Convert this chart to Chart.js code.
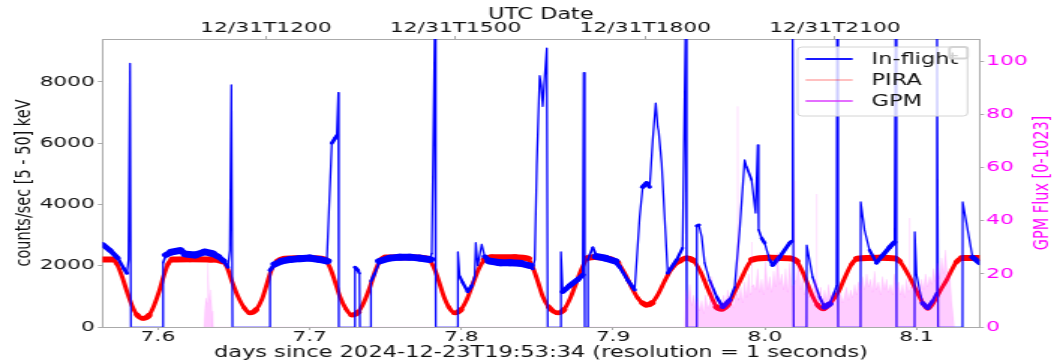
<!DOCTYPE html>
<html>
<head>
<meta charset="utf-8">
<script src="https://cdn.jsdelivr.net/npm/chart.js@4.4.1/dist/chart.umd.min.js"></script>
<style>
  html, body { margin: 0; padding: 0; background: #fff; overflow: hidden; }
</style>
</head>
<body>
<!-- drawn at 703 px wide, shown at 1054 px: the reference is a horizontally stretched figure -->
<canvas id="c" width="703" height="363" style="display:block;width:1054px;height:363px"></canvas>
<script>
// ---- data ----
const inflightDays = [
  7.5634, 7.5684, 7.5736, 7.5776, 7.5796, 7.5806, 7.5816, 7.5822, 7.6033, 7.6034,
  7.6053, 7.6092, 7.6145, 7.6184, 7.6244, 7.6310, 7.6356, 7.6395, 7.6435, 7.6461,
  7.6474, 7.6484, 7.6491, 7.6738, 7.6739, 7.6771, 7.6817, 7.6870, 7.6935, 7.7001,
  7.7067, 7.7113, 7.7146, 7.7166, 7.7179, 7.7189, 7.7192, 7.7298, 7.7299, 7.7318,
  7.7328, 7.7331, 7.7403, 7.7404, 7.7430, 7.7462, 7.7528, 7.7594, 7.7660, 7.7726,
  7.7792, 7.7805, 7.7812, 7.7825, 7.7831, 7.7976, 7.7977, 7.7989, 7.8009, 7.8042,
  7.8068, 7.8088, 7.8095, 7.8108, 7.8134, 7.8154, 7.8187, 7.8253, 7.8319, 7.8385,
  7.8451, 7.8470, 7.8484, 7.8497, 7.8516, 7.8526, 7.8536, 7.8549, 7.8563, 7.8569,
  7.8655, 7.8656, 7.8668, 7.8714, 7.8767, 7.8800, 7.8806, 7.8813, 7.8833, 7.8834,
  7.8866, 7.8892, 7.8945, 7.9011, 7.9043, 7.9096, 7.9142, 7.9175, 7.9195, 7.9221,
  7.9241, 7.9261, 7.9281, 7.9294, 7.9300, 7.9320, 7.9360, 7.9419, 7.9458, 7.9478,
  7.9485, 7.9551, 7.9552, 7.9565, 7.9584, 7.9603, 7.9636, 7.9683, 7.9722, 7.9768,
  7.9801, 7.9834, 7.9867, 7.9880, 7.9913, 7.9939, 7.9953, 7.9959, 7.9979, 7.9999,
  8.0032, 8.0051, 8.0097, 8.0163, 8.0177, 8.0183, 8.0190, 8.0275, 8.0276, 8.0315,
  8.0361, 8.0394, 8.0427, 8.0460, 8.0473, 8.0476, 8.0483, 8.0631, 8.0632, 8.0657,
  8.0690, 8.0736, 8.0769, 8.0822, 8.0855, 8.0862, 8.0868, 8.0987, 8.0988, 8.1000,
  8.1020, 8.1040, 8.1073, 8.1106, 8.1132, 8.1135, 8.1142, 8.1303, 8.1304, 8.1329,
  8.1369, 8.1415
];
const inflightCounts = [
  2700, 2500, 2250, 1900, 1750, 2200, 8600, 0, 0, 2100,
  2350, 2450, 2500, 2380, 2350, 2450, 2400, 2300, 2150, 1950,
  2500, 7900, 0, 0, 1850, 2050, 2150, 2200, 2230, 2250,
  2200, 2150, 6000, 6150, 6250, 7650, 0, 0, 1950, 1850,
  1750, 0, 0, 1500, 1750, 2150, 2250, 2280, 2280, 2250,
  2200, 2400, 5000, 9900, 0, 0, 2450, 1650, 1450, 1150,
  1350, 1650, 2750, 2000, 2700, 2300, 2150, 2100, 2100, 2080,
  2000, 1900, 2200, 5300, 8200, 7900, 7200, 8150, 9100, 0,
  0, 2450, 1150, 1350, 1550, 1700, 8300, 0, 0, 2200,
  2600, 2300, 2250, 2150, 1960, 1530, 1210, 3590, 4570, 4700,
  4570, 6100, 7310, 6530, 6400, 5350, 1760, 2190, 2580, 9900,
  0, 0, 3300, 3330, 2940, 2090, 1530, 980, 650, 880,
  1300, 3170, 5450, 5220, 4800, 3720, 5940, 3170, 2900, 2740,
  2190, 2020, 2280, 2740, 2800, 9900, 0, 0, 2670, 1630,
  980, 650, 750, 1150, 1350, 9900, 0, 0, 4080, 3170,
  2510, 2090, 2300, 2600, 2770, 9900, 0, 0, 3100, 1700,
  1200, 780, 620, 850, 1110, 9900, 0, 0, 4080, 3390,
  2280, 2090
];

const piraDays = [
  7.5634, 7.5697, 7.5730, 7.5763, 7.5796, 7.5829, 7.5862, 7.5901, 7.5941, 7.5974,
  7.6007, 7.6040, 7.6066, 7.6099, 7.6211, 7.6343, 7.6422, 7.6455, 7.6487, 7.6527,
  7.6567, 7.6606, 7.6646, 7.6685, 7.6718, 7.6751, 7.6791, 7.6837, 7.7001, 7.7100,
  7.7133, 7.7166, 7.7199, 7.7238, 7.7278, 7.7318, 7.7357, 7.7397, 7.7430, 7.7462,
  7.7502, 7.7660, 7.7779, 7.7818, 7.7851, 7.7884, 7.7917, 7.7956, 7.7996, 7.8036,
  7.8075, 7.8115, 7.8154, 7.8200, 7.8352, 7.8437, 7.8470, 7.8503, 7.8536, 7.8576,
  7.8635, 7.8675, 7.8714, 7.8754, 7.8793, 7.8833, 7.8879, 7.8978, 7.9030, 7.9076,
  7.9122, 7.9162, 7.9195, 7.9221, 7.9254, 7.9294, 7.9340, 7.9386, 7.9439, 7.9485,
  7.9524, 7.9570, 7.9636, 7.9683, 7.9715, 7.9762, 7.9801, 7.9847, 7.9887, 7.9920,
  8.0032, 8.0163, 8.0209, 8.0249, 8.0282, 8.0315, 8.0348, 8.0387, 8.0433, 8.0486,
  8.0526, 8.0572, 8.0611, 8.0756, 8.0855, 8.0888, 8.0954, 8.0987, 8.1020, 8.1073,
  8.1119, 8.1158, 8.1198, 8.1231, 8.1263, 8.1303, 8.1415
];
const piraCounts = [
  2200, 2200, 2050, 1650, 1150, 700, 400, 280, 380, 700,
  1150, 1700, 2050, 2200, 2210, 2200, 2150, 1950, 1500, 1000,
  640, 460, 560, 900, 1400, 1900, 2150, 2230, 2250, 2200,
  1950, 1500, 1000, 600, 390, 480, 800, 1300, 1800, 2150,
  2270, 2280, 2230, 1950, 1500, 1000, 650, 460, 560, 900,
  1400, 1900, 2200, 2280, 2280, 2230, 1950, 1500, 1000, 650,
  460, 560, 900, 1400, 1900, 2250, 2280, 2220, 2100, 1750,
  1300, 950, 780, 720, 780, 1050, 1500, 1900, 2150, 2250,
  2180, 1860, 1110, 650, 580, 750, 1150, 1600, 2000, 2200,
  2260, 2240, 2150, 1800, 1400, 1000, 720, 580, 780, 1150,
  1600, 2050, 2230, 2260, 2240, 2150, 1630, 1300, 980, 580,
  850, 1200, 1530, 1850, 2120, 2250, 2250
];

const gpmDays = [
  7.6303, 7.6310, 7.6316, 7.6323, 7.6329, 7.6336, 7.6343, 7.6349, 7.6356, 7.6362,
  7.9472, 7.9478, 7.9491, 7.9505, 7.9518, 7.9531, 7.9544, 7.9557, 7.9570, 7.9584,
  7.9597, 7.9610, 7.9623, 7.9636, 7.9650, 7.9663, 7.9676, 7.9689, 7.9702, 7.9715,
  7.9729, 7.9742, 7.9755, 7.9768, 7.9781, 7.9794, 7.9808, 7.9819, 7.9821, 7.9823,
  7.9827, 7.9841, 7.9854, 7.9867, 7.9880, 7.9893, 7.9906, 7.9911, 7.9913, 7.9915,
  7.9926, 7.9939, 7.9953, 7.9966, 7.9979, 7.9992, 8.0005, 8.0018, 8.0032, 8.0045,
  8.0058, 8.0071, 8.0084, 8.0097, 8.0111, 8.0124, 8.0137, 8.0150, 8.0163, 8.0177,
  8.0194, 8.0196, 8.0198, 8.0209, 8.0223, 8.0236, 8.0249, 8.0262, 8.0275, 8.0289,
  8.0302, 8.0315, 8.0328, 8.0339, 8.0341, 8.0343, 8.0354, 8.0368, 8.0381, 8.0394,
  8.0407, 8.0420, 8.0433, 8.0447, 8.0460, 8.0473, 8.0486, 8.0499, 8.0513, 8.0526,
  8.0539, 8.0552, 8.0565, 8.0578, 8.0592, 8.0605, 8.0618, 8.0631, 8.0644, 8.0657,
  8.0671, 8.0684, 8.0697, 8.0710, 8.0723, 8.0736, 8.0750, 8.0763, 8.0776, 8.0789,
  8.0802, 8.0815, 8.0829, 8.0842, 8.0855, 8.0868, 8.0881, 8.0895, 8.0908, 8.0921,
  8.0934, 8.0947, 8.0952, 8.0954, 8.0956, 8.0967, 8.0980, 8.0993, 8.1007, 8.1020,
  8.1033, 8.1046, 8.1059, 8.1073, 8.1086, 8.1099, 8.1112, 8.1125, 8.1138, 8.1152,
  8.1165, 8.1178, 8.1191, 8.1204, 8.1217, 8.1231, 8.1244, 8.1250
];
const gpmFlux = [
  0, 7, 11, 9, 24, 13, 10, 14, 6, 0,
  0, 14, 9, 16, 8, 12, 7, 11, 6, 10,
  5, 12, 7, 9, 19, 8, 11, 6, 10, 7,
  12, 8, 14, 9, 11, 7, 13, 12, 83, 11,
  10, 15, 9, 17, 11, 20, 12, 13, 32, 15,
  16, 14, 22, 13, 18, 12, 25, 14, 19, 13,
  21, 15, 28, 16, 20, 14, 22, 13, 24, 15,
  16, 55, 17, 18, 24, 14, 20, 12, 17, 11,
  16, 10, 18, 17, 50, 13, 12, 15, 9, 14,
  10, 16, 11, 13, 9, 14, 10, 13, 9, 12,
  15, 10, 14, 11, 16, 12, 17, 13, 19, 14,
  20, 15, 18, 13, 21, 14, 17, 12, 19, 14,
  18, 13, 16, 12, 20, 14, 17, 12, 16, 11,
  18, 13, 14, 41, 15, 15, 17, 12, 16, 13,
  18, 14, 20, 15, 19, 16, 22, 17, 24, 18,
  26, 20, 29, 18, 22, 10, 3, 0
];

const bottomTicks = [7.6, 7.7, 7.8, 7.9, 8.0, 8.1];
const topTickDays = [7.6712, 7.7962, 7.9212, 8.0462];
const topTickLabels = ['12/31T1200', '12/31T1500', '12/31T1800', '12/31T2100'];
const countTicks = [0, 2000, 4000, 6000, 8000];
const fluxTicks = [0, 20, 40, 60, 80, 100];

const X_MIN = 7.5634, X_MAX = 8.1415;
const COUNT_MAX = 9400, FLUX_MAX = 108.3;

const xLabel = 'days since 2024-12-23T19:53:34 (resolution = 1 seconds)';
const yLabel = 'counts/sec [5 - 50] keV';
const y2Label = 'GPM Flux [0-1023]';

// ---- chart ----
const FAMILY = "'DejaVu Sans', sans-serif";
const tickFont = { family: FAMILY, size: 14.5 };
const titleFont = { family: FAMILY, size: 15 };
const SPINE = '#aaaaaa';
const MAGENTA = '#ff00ff';

const toXY = (xs, ys) => xs.map((x, i) => ({ x: x, y: ys[i] }));

// noisy traces: keep a roughly constant vertical band, thin on steep parts
function bandWidth(band, thin) {
  return c => {
    if (c.p0.parsed.y === 0 && c.p1.parsed.y === 0) return 1.1;
    const dx = Math.abs(c.p1.x - c.p0.x) || 0.001;
    const s = Math.abs(c.p1.y - c.p0.y) / dx;
    let w = Math.max(thin, band / Math.sqrt(1 + s * s));
    if (dx < 2) w = Math.min(w, 3);
    return w;
  };
}

const overlay = {
  id: 'overlay',
  afterDraw(chart) {
    const ctx = chart.ctx;
    const area = chart.chartArea;

    // right axis title, reading bottom to top
    ctx.save();
    ctx.translate(chart.scales.y2.right - 8, (area.top + area.bottom) / 2);
    ctx.rotate(-Math.PI / 2);
    ctx.font = "14.5px " + FAMILY;
    ctx.fillStyle = MAGENTA;
    ctx.textAlign = 'center';
    ctx.textBaseline = 'middle';
    ctx.fillText(y2Label, 0, 0);
    ctx.restore();

    // legend box
    const bx = area.right - 121.3, by = area.top + 8, bw = 113.3, bh = 69;
    ctx.save();
    ctx.beginPath();
    ctx.roundRect(bx, by, bw, bh, 3);
    ctx.fillStyle = 'rgba(255,255,255,0.8)';
    ctx.fill();
    ctx.strokeStyle = '#d4d4d4';
    ctx.lineWidth = 1;
    ctx.stroke();

    const swatch = ['#0000ff', 'rgba(255,0,0,0.28)', 'rgba(215,40,255,0.75)'];
    const rows = [12, 33, 54];
    ctx.font = "15px " + FAMILY;
    ctx.textBaseline = 'middle';
    ctx.textAlign = 'left';
    chart.data.datasets.forEach((ds, i) => {
      const yy = by + rows[i];
      ctx.beginPath();
      ctx.moveTo(bx + 5.3, yy);
      ctx.lineTo(bx + 36.7, yy);
      ctx.strokeStyle = swatch[i];
      ctx.lineWidth = 1.8;
      ctx.stroke();
      ctx.fillStyle = '#111';
      ctx.fillText(ds.label, bx + 49.3, yy + 1);
    });

    // small empty box in the corner of the legend
    ctx.beginPath();
    ctx.roundRect(bx + bw - 12, by, 12, 11.5, 2);
    ctx.fillStyle = 'rgba(255,255,255,0.8)';
    ctx.fill();
    ctx.strokeStyle = '#d4d4d4';
    ctx.stroke();
    ctx.restore();
  }
};

new Chart(document.getElementById('c'), {
  type: 'line',
  data: {
    datasets: [
      {
        label: 'In-flight',
        data: toXY(inflightDays, inflightCounts),
        xAxisID: 'x', yAxisID: 'y',
        borderColor: '#0000ff',
        borderWidth: 2,
        borderJoinStyle: 'round',
        borderCapStyle: 'round',
        pointRadius: 0,
        tension: 0,
        clip: 0,
        order: 1,
        segment: {
          borderWidth: bandWidth(7, 1.3),
          borderColor: c => (c.p0.parsed.y === 0 && c.p1.parsed.y === 0) ? 'rgba(60,60,255,0.75)' : undefined
        }
      },
      {
        label: 'PIRA',
        data: toXY(piraDays, piraCounts),
        xAxisID: 'x', yAxisID: 'y',
        borderColor: '#ff0000',
        borderWidth: 4,
        borderCapStyle: 'round',
        borderJoinStyle: 'round',
        pointRadius: 0,
        cubicInterpolationMode: 'monotone',
        clip: 0,
        order: 2,
        segment: { borderWidth: bandWidth(6, 3) }
      },
      {
        label: 'GPM',
        data: toXY(gpmDays, gpmFlux),
        xAxisID: 'x', yAxisID: 'y2',
        borderColor: 'rgba(255,0,255,0.15)',
        borderWidth: 0.5,
        backgroundColor: 'rgba(255,0,255,0.2)',
        fill: 'origin',
        pointRadius: 0,
        tension: 0,
        clip: 0,
        order: 0
      }
    ]
  },
  options: {
    responsive: false,
    animation: false,
    devicePixelRatio: 1,
    layout: { padding: 0 },
    plugins: { legend: { display: false }, tooltip: { enabled: false } },
    scales: {
      x: {
        type: 'linear', position: 'bottom', min: X_MIN, max: X_MAX,
        afterBuildTicks: s => { s.ticks = bottomTicks.map(v => ({ value: v })); },
        afterFit: s => { s.height = 36; },
        ticks: { callback: v => v.toFixed(1), font: tickFont, color: '#111', padding: -1, maxRotation: 0, autoSkip: false },
        grid: { drawOnChartArea: false, drawTicks: true, tickLength: 3, color: SPINE },
        border: { display: true, color: SPINE },
        title: { display: true, text: xLabel, font: titleFont, color: '#111', padding: { top: 0, bottom: 0.5 } }
      },
      x2: {
        type: 'linear', position: 'top', min: X_MIN, max: X_MAX,
        afterBuildTicks: s => { s.ticks = topTickDays.map(v => ({ value: v })); },
        afterFit: s => { s.height = 39; },
        ticks: { callback: (v, i) => topTickLabels[i], font: tickFont, color: '#111', padding: -0.5, maxRotation: 0, autoSkip: false },
        grid: { drawOnChartArea: false, drawTicks: true, tickLength: 3, color: SPINE },
        border: { display: true, color: SPINE },
        title: { display: true, text: 'UTC Date', font: titleFont, color: '#111', padding: { top: 6.5, bottom: 0 } }
      },
      y: {
        type: 'linear', position: 'left', min: 0, max: COUNT_MAX,
        afterBuildTicks: s => { s.ticks = countTicks.map(v => ({ value: v })); },
        afterFit: s => { s.width = 68.3; },
        ticks: { callback: v => String(v), font: tickFont, color: '#111', padding: 2 },
        grid: { drawOnChartArea: false, drawTicks: true, tickLength: 3, color: SPINE },
        border: { display: true, color: SPINE },
        title: { display: true, text: yLabel, font: { family: FAMILY, size: 14.5 }, color: '#111', padding: { top: 8, bottom: 0 } }
      },
      y2: {
        type: 'linear', position: 'right', min: 0, max: FLUX_MAX,
        afterBuildTicks: s => { s.ticks = fluxTicks.map(v => ({ value: v })); },
        afterFit: s => { s.width = 703 - 653.3; },
        ticks: { callback: v => String(v), font: tickFont, color: MAGENTA, padding: 1.5 },
        grid: { drawOnChartArea: false, drawTicks: true, tickLength: 3, color: SPINE },
        border: { display: true, color: SPINE },
        title: { display: false }
      }
    }
  },
  plugins: [overlay]
});
</script>
</body>
</html>
